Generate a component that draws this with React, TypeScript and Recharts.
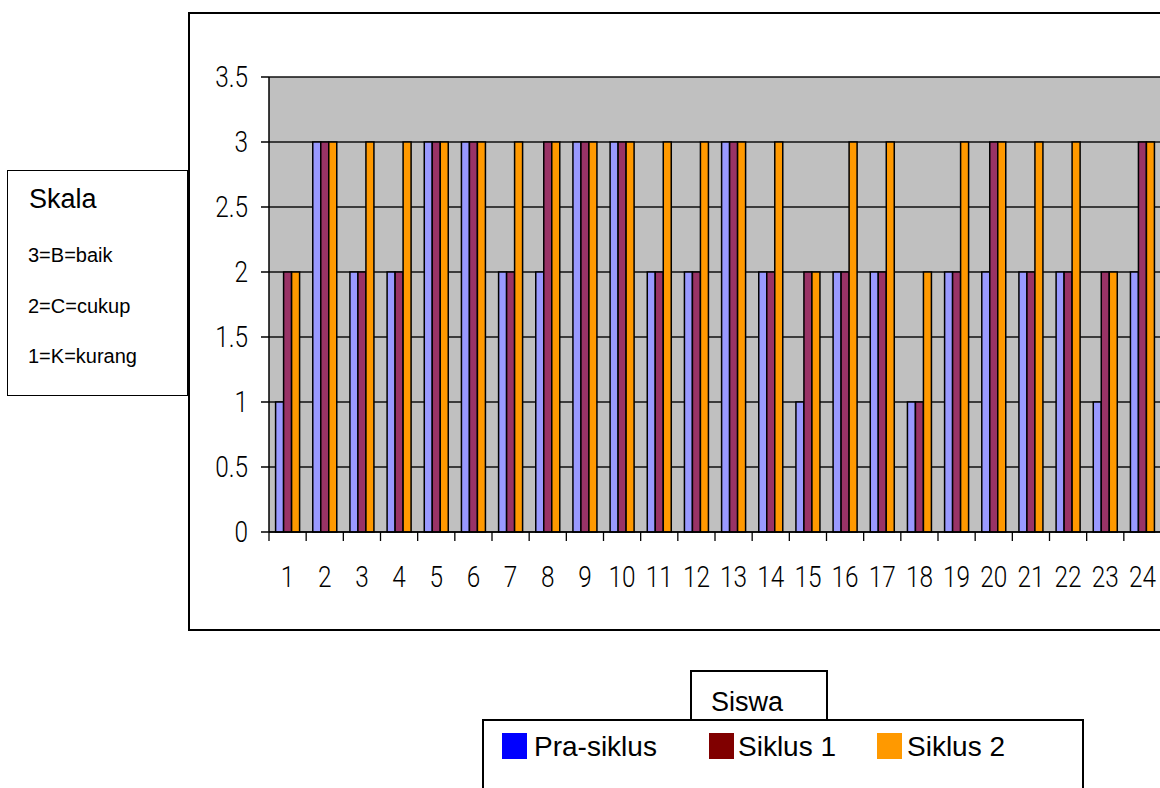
import React from "react";
import { BarChart, Bar, XAxis, YAxis, CartesianGrid } from "recharts";

// ---- data ----
const students = ["1","2","3","4","5","6","7","8","9","10","11","12","13","14","15","16","17","18","19","20","21","22","23","24"];
const praSiklus = [1,3,2,2,3,3,2,2,3,3,2,2,3,2,1,2,2,1,2,2,2,2,1,2];
const siklus1 = [2,3,2,2,3,3,2,3,3,3,2,2,3,2,2,2,2,1,2,3,2,2,2,3];
const siklus2 = [2,3,3,3,3,3,3,3,3,3,3,3,3,3,2,3,3,2,3,3,3,3,2,3];
const yTicks = [0, 0.5, 1, 1.5, 2, 2.5, 3, 3.5];
const seriesNames = ["Pra-siklus", "Siklus 1", "Siklus 2"];
const barColors = ["#9999FF", "#993366", "#FF9900"];
const legendColors = ["#0000FF", "#800000", "#FF9900"];
const scaleTitle = "Skala";
const scaleLines = ["3=B=baik", "2=C=cukup", "1=K=kurang"];
const legendTitle = "Siswa";

const data = students.map((s, i) => ({
  name: s,
  pra: praSiklus[i],
  s1: siklus1[i],
  s2: siklus2[i],
}));
const keys = ["pra", "s1", "s2"];

// ---- layout ----
const PLOT_LEFT = 269;
const PLOT_RIGHT = 1161;
const PLOT_TOP = 77;
const PLOT_BOTTOM = 532;
const CHART_W = PLOT_RIGHT;
const CHART_H = 640;
const Y_AXIS_W = 60;
const X_AXIS_H = 60;
const BAND = (PLOT_RIGHT - PLOT_LEFT) / students.length;
const legendSquareX = [502, 709, 877];
const legendTextX = [534, 738, 907];
const scaleBaselines = [262, 313, 363];

const tickFont: React.CSSProperties = {
  fontFamily: "Roboto, 'Liberation Sans', sans-serif",
  fontWeight: 300,
  fontSize: 29,
};
const SX = 0.84;

const YTick = (props: any) => {
  const { x, y, payload } = props;
  return (
    <text
      transform={`translate(${x - 11},${y}) scale(${SX},1)`}
      textAnchor="end"
      dy="0.36em"
      fill="#000"
      style={tickFont}
    >
      {String(payload.value)}
    </text>
  );
};

const XTick = (props: any) => {
  const { x, y, payload } = props;
  const bx = x - BAND / 2;
  return (
    <g>
      <line x1={bx} x2={bx} y1={y} y2={y + 9} stroke="#000" strokeWidth={1.3} />
      <text
        transform={`translate(${x},${y + 45}) scale(${SX},1)`}
        textAnchor="middle"
        dy="0.36em"
        fill="#000"
        style={tickFont}
      >
        {payload.value}
      </text>
    </g>
  );
};

const sans = "'Liberation Sans', Arial, sans-serif";

const abs = (s: React.CSSProperties): React.CSSProperties => ({ position: "absolute", ...s });

export default function App() {
  return (
    <div style={abs({ left: 0, top: 0, width: 1160, height: 788, overflow: "hidden", background: "#fff", fontFamily: sans })}>
      {/* chart frame */}
      <div style={abs({ left: 188, top: 12, width: 1100, height: 615, border: "2px solid #000", background: "#fff" })} />
      {/* chart */}
      <div style={abs({ left: 0, top: 0 })}>
        <BarChart
          width={CHART_W}
          height={CHART_H}
          data={data}
          margin={{ top: PLOT_TOP, right: 0, bottom: CHART_H - PLOT_BOTTOM - X_AXIS_H, left: PLOT_LEFT - Y_AXIS_W }}
          barCategoryGap={6.6}
          barGap={0}
        >
          <CartesianGrid vertical={false} stroke="#111" strokeWidth={1.4} fill="#C0C0C0" fillOpacity={1} />
          <XAxis
            dataKey="name"
            height={X_AXIS_H}
            tickLine={false}
            tickSize={0}
            tickMargin={0}
            axisLine={{ stroke: "#000", strokeWidth: 1.5 }}
            tick={<XTick />}
            interval={0}
          />
          <YAxis
            width={Y_AXIS_W}
            domain={[0, 3.5]}
            ticks={yTicks}
            tickSize={8}
            tickMargin={2}
            tickLine={{ stroke: "#000", strokeWidth: 1.5 }}
            axisLine={{ stroke: "#000", strokeWidth: 1.5 }}
            tick={<YTick />}
            interval={0}
          />
          {keys.map((k, i) => (
            <Bar
              key={k}
              dataKey={k}
              name={seriesNames[i]}
              fill={barColors[i]}
              stroke="#000"
              strokeWidth={1.5}
              isAnimationActive={false}
            />
          ))}
        </BarChart>
      </div>

      {/* Skala box */}
      <div style={abs({ left: 7, top: 170, width: 179, height: 224, border: "1.5px solid #000", background: "#fff" })} />
      <div style={abs({ left: 29, top: 209 - 0.8465 * 27, fontSize: 27, lineHeight: "27px", whiteSpace: "nowrap" })}>{scaleTitle}</div>
      {scaleLines.map((t, i) => (
        <div key={t} style={abs({ left: 28, top: scaleBaselines[i] - 0.8465 * 20, fontSize: 20, lineHeight: "20px", whiteSpace: "nowrap" })}>{t}</div>
      ))}

      {/* Legend */}
      <div style={abs({ left: 690, top: 670, width: 134, height: 60, border: "2px solid #000", background: "#fff" })} />
      <div style={abs({ left: 482, top: 719, width: 598, height: 120, border: "2px solid #000", background: "#fff" })} />
      <div style={abs({ left: 711, top: 712 - 0.8465 * 27, fontSize: 27, lineHeight: "27px", whiteSpace: "nowrap" })}>{legendTitle}</div>
      {seriesNames.map((n, i) => (
        <React.Fragment key={n}>
          <div style={abs({ left: legendSquareX[i], top: 733, width: 25, height: 26, background: legendColors[i] })} />
          <div style={abs({ left: legendTextX[i], top: 757 - 0.8465 * 28, fontSize: 28, lineHeight: "28px", whiteSpace: "nowrap" })}>{n}</div>
        </React.Fragment>
      ))}
    </div>
  );
}
